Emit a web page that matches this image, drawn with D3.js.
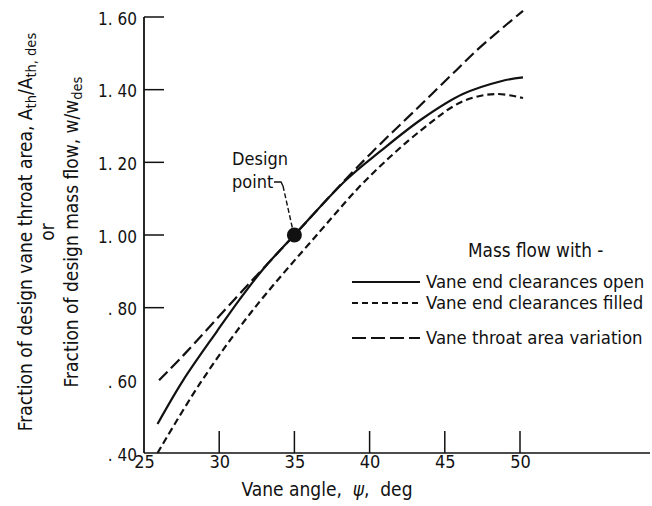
<!DOCTYPE html>
<html>
<head>
<meta charset="utf-8">
<script src="https://cdn.jsdelivr.net/npm/d3@7"></script>
<style>
  html, body { margin: 0; padding: 0; background: #fff; }
  svg { display: block; }
  text { font-family: "Liberation Sans Narrow", "DejaVu Sans Condensed", "Arial Narrow", "Liberation Sans", sans-serif; fill: #111; }
</style>
</head>
<body>
<svg id="chart" width="652" height="506"></svg>
<script>
// Vane angle (deg) vs fraction of design value
const xTicks = [25, 30, 35, 40, 45, 50];
const yTicks = [0.40, 0.60, 0.80, 1.00, 1.20, 1.40, 1.60];
const yTickLabels = [". 40", ". 60", ". 80", "1. 00", "1. 20", "1. 40", "1. 60"];

// Mass flow, vane end clearances open
const openAngle = [25.9, 27.6, 29.85, 31.4, 33.0, 35.0, 38.4, 40.7, 43.5, 46.2, 48.8, 50.2];
const openFlow  = [0.48, 0.60, 0.735, 0.825, 0.91, 1.00, 1.15, 1.23, 1.32, 1.388, 1.424, 1.434];

// Mass flow, vane end clearances filled
const filledAngle = [25.9, 28.7, 32.1, 36.7, 39.8, 43.5, 46.2, 48.4, 50.2];
const filledFlow  = [0.40, 0.59, 0.786, 1.01, 1.153, 1.291, 1.368, 1.388, 1.377];

// Vane throat area variation
const throatAngle = [26.0, 27.6, 31.0, 33.2, 35.0, 38.4, 40.7, 42.9, 45.8, 47.3, 50.2];
const throatArea  = [0.60, 0.668, 0.822, 0.92, 1.00, 1.153, 1.25, 1.338, 1.455, 1.515, 1.617];

const designPoint = [35, 1.00];

const legendItems = ["Vane end clearances open", "Vane end clearances filled", "Vane throat area variation"];

const svg = d3.select("#chart");
const x = d3.scaleLinear().domain([25, 50]).range([144, 520]);
const y = d3.scaleLinear().domain([0.4, 1.6]).range([453, 17]);

const ink = "#111";

// Axes frame
svg.append("line").attr("x1", x(25)).attr("x2", 650).attr("y1", y(0.4)).attr("y2", y(0.4))
  .attr("stroke", ink).attr("stroke-width", 1.6);
svg.append("line").attr("x1", x(25)).attr("x2", x(25)).attr("y1", y(0.4)).attr("y2", y(1.6))
  .attr("stroke", ink).attr("stroke-width", 1.8);

// Y ticks (inside, to the right) and labels
const yAxis = d3.axisLeft(y).tickValues(yTicks).tickSize(0).tickPadding(7)
  .tickFormat((d, i) => yTickLabels[i]);
const gy = svg.append("g").attr("transform", `translate(${x(25)},0)`).call(yAxis);
gy.select(".domain").remove();
gy.selectAll("text").attr("font-size", 17).attr("dy", "0.42em").style("font-family", null)
  .style("white-space", "pre");
yTicks.filter(v => v > 0.7).forEach(v => {
  svg.append("line").attr("x1", x(25)).attr("x2", x(25) + 20).attr("y1", y(v)).attr("y2", y(v))
    .attr("stroke", ink).attr("stroke-width", 1.5);
});

// X ticks (inside, upward) and labels
const xAxis = d3.axisBottom(x).tickValues(xTicks).tickSize(0).tickPadding(2).tickFormat(d3.format("d"));
const gx = svg.append("g").attr("transform", `translate(0,${y(0.4)})`).call(xAxis);
gx.select(".domain").remove();
gx.selectAll("text").attr("font-size", 18).style("font-family", null);
xTicks.filter(v => v > 25).forEach(v => {
  svg.append("line").attr("x1", x(v)).attr("x2", x(v)).attr("y1", y(0.4)).attr("y2", y(0.4) - 22)
    .attr("stroke", ink).attr("stroke-width", 1.5);
});

// Axis titles
const xt = svg.append("text").attr("x", 327).attr("y", 496).attr("text-anchor", "middle")
  .attr("font-size", 19).style("white-space", "pre");
xt.append("tspan").text("Vane angle,  ");
xt.append("tspan").attr("font-style", "italic").text("\u03C8");
xt.append("tspan").text(",  deg");

const yl = svg.append("g").attr("transform", "translate(0,232) rotate(-90)");
const t1 = yl.append("text").attr("x", 0).attr("y", 32).attr("text-anchor", "middle").attr("font-size", 19);
t1.append("tspan").text("Fraction of design vane throat area,  A");
t1.append("tspan").attr("font-size", 14.5).attr("dy", 4).text("th");
t1.append("tspan").attr("dy", -4).text("/A");
t1.append("tspan").attr("font-size", 14.5).attr("dy", 4).text("th, des");
yl.append("text").attr("x", 0).attr("y", 54).attr("text-anchor", "middle").attr("font-size", 19).text("or");
const t3 = yl.append("text").attr("x", 0).attr("y", 78).attr("text-anchor", "middle").attr("font-size", 19);
t3.append("tspan").text("Fraction of design mass flow,  w/w");
t3.append("tspan").attr("font-size", 14.5).attr("dy", 4).text("des");

// Curves
const line = d3.line().x(d => x(d[0])).y(d => y(d[1])).curve(d3.curveCatmullRom.alpha(0.5));
const zip = (a, b) => a.map((v, i) => [v, b[i]]);

svg.append("path").datum(zip(throatAngle, throatArea)).attr("d", line)
  .attr("fill", "none").attr("stroke", ink).attr("stroke-width", 2.2).attr("stroke-dasharray", "12,5");
svg.append("path").datum(zip(openAngle, openFlow)).attr("d", line)
  .attr("fill", "none").attr("stroke", ink).attr("stroke-width", 2.2);
svg.append("path").datum(zip(filledAngle, filledFlow)).attr("d", line)
  .attr("fill", "none").attr("stroke", ink).attr("stroke-width", 2.2).attr("stroke-dasharray", "7,4");

// Design point marker and callout
svg.append("circle").attr("cx", x(designPoint[0])).attr("cy", y(designPoint[1])).attr("r", 7.5).attr("fill", ink);
svg.append("text").attr("x", 232).attr("y", 165).attr("font-size", 18).text("Design");
svg.append("text").attr("x", 232).attr("y", 188).attr("font-size", 18).text("point");
svg.append("path").attr("d", "M274,182 L281,182 L283,186").attr("fill", "none").attr("stroke", ink).attr("stroke-width", 1.4);
svg.append("line").attr("x1", 283).attr("y1", 186).attr("x2", x(designPoint[0]) - 2).attr("y2", y(designPoint[1]) - 7)
  .attr("stroke", ink).attr("stroke-width", 1.4).attr("stroke-dasharray", "5,2.5");

// Legend
svg.append("text").attr("x", 468).attr("y", 257).attr("font-size", 18.8).text("Mass flow with -");
const legendY = [282, 303, 338];
const legendDash = [null, "6,4", "14,5"];
legendItems.forEach((name, i) => {
  const l = svg.append("line").attr("x1", 352).attr("x2", 420).attr("y1", legendY[i]).attr("y2", legendY[i])
    .attr("stroke", ink).attr("stroke-width", 2);
  if (legendDash[i]) l.attr("stroke-dasharray", legendDash[i]);
  svg.append("text").attr("x", 426).attr("y", legendY[i] + 6).attr("font-size", 18.4).text(name);
});
</script>
</body>
</html>
